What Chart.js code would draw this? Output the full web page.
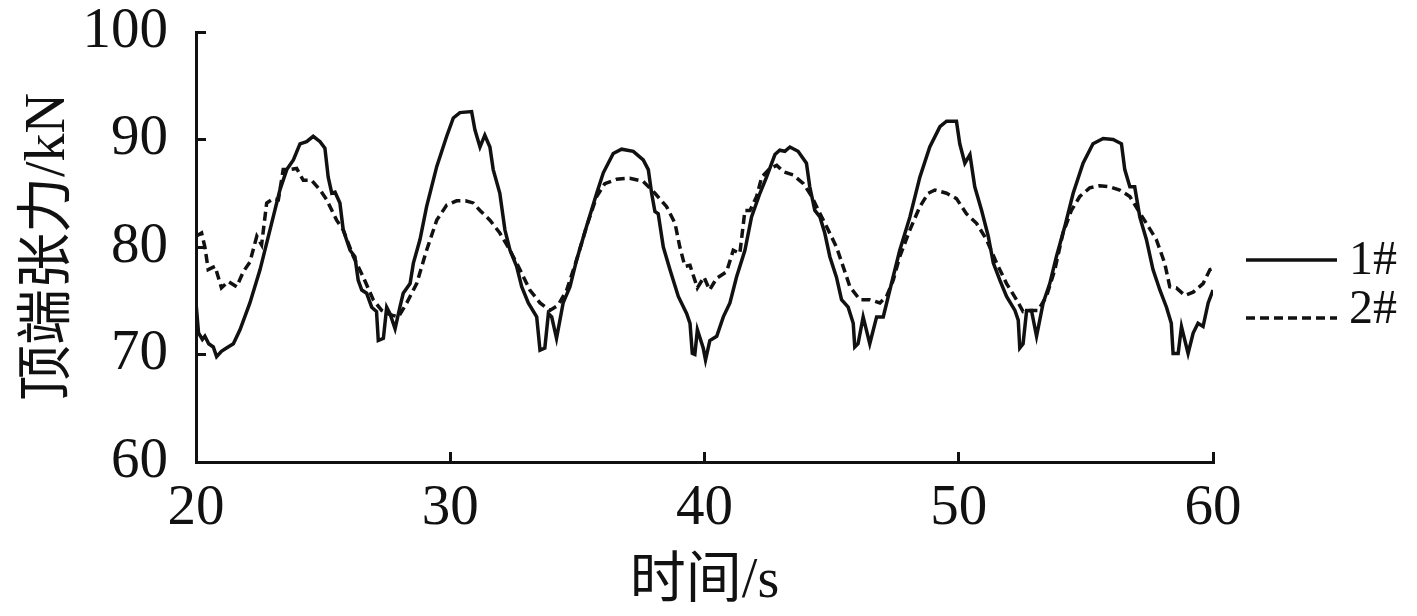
<!DOCTYPE html>
<html lang="zh">
<head>
    <meta charset="UTF-8">
    <title>顶端张力</title>
    <style>
        html, body { margin: 0; padding: 0; background: white; }
        .chart-container { width: 1417px; height: 616px; position: relative; }
    </style>
</head>
<body>
    <div class="chart-container">
        <canvas id="tensionChart"></canvas>
    </div>

    <script src="https://cdn.jsdelivr.net/npm/chart.js"></script>
    <script>
        // 1# riser
        const time1 = [20.0, 20.1, 20.25, 20.35, 20.5, 20.68, 20.81, 21.0, 21.2, 21.47, 21.73, 22.12, 22.52, 22.91, 23.3, 23.57, 23.83, 24.09, 24.35, 24.61,
            24.88, 25.07, 25.2, 25.34, 25.47, 25.66, 25.79, 26.06, 26.25, 26.38, 26.52, 26.71, 26.91, 27.1, 27.17, 27.37, 27.5, 27.63, 27.83, 28.02,
            28.15, 28.42, 28.55, 28.81, 29.07, 29.47, 29.86, 30.12, 30.38, 30.84, 30.97, 31.17, 31.36, 31.56, 31.69, 31.95, 32.15, 32.35, 32.61, 32.81,
            33.07, 33.4, 33.53, 33.72, 33.86, 33.99, 34.18, 34.44, 34.71, 34.97, 35.36, 35.76, 36.02, 36.41, 36.74, 37.2, 37.59, 37.79, 37.92, 38.05,
            38.18, 38.38, 38.64, 38.97, 39.3, 39.43, 39.52, 39.62, 39.72, 39.95, 40.04, 40.21, 40.48, 40.74, 41.0, 41.26, 41.59, 41.85, 42.18, 42.44,
            42.77, 42.96, 43.16, 43.36, 43.68, 44.01, 44.14, 44.34, 44.54, 44.73, 44.93, 45.19, 45.39, 45.65, 45.85, 45.91, 46.04, 46.24, 46.5, 46.77,
            47.03, 47.29, 47.68, 48.08, 48.47, 48.86, 49.26, 49.52, 49.91, 50.04, 50.24, 50.44, 50.63, 50.9, 51.16, 51.36, 51.62, 51.88, 52.21, 52.34,
            52.4, 52.53, 52.67, 52.86, 53.06, 53.32, 53.58, 53.84, 54.17, 54.5, 54.89, 55.28, 55.68, 56.07, 56.4, 56.53, 56.73, 56.92, 57.12, 57.38,
            57.64, 57.91, 58.17, 58.36, 58.43, 58.63, 58.76, 59.02, 59.22, 59.41, 59.61, 59.81, 60.0];
        const force1 = [74.8, 72.0, 71.4, 71.7, 71.0, 70.7, 69.8, 70.3, 70.6, 71.0, 72.3, 74.8, 77.9, 81.6, 85.3, 87.2, 88.1, 89.6, 89.8, 90.3,
            89.8, 89.2, 86.5, 85.0, 85.1, 84.1, 81.6, 79.7, 79.1, 76.9, 76.0, 75.7, 74.4, 74.0, 71.3, 71.5, 74.4, 73.8, 72.4, 74.4,
            75.7, 76.6, 78.5, 80.7, 83.75, 87.5, 90.3, 92.0, 92.5, 92.6, 90.9, 89.3, 90.4, 89.3, 87.2, 85.0, 81.6, 79.7, 78.2, 76.3,
            74.8, 73.5, 70.4, 70.6, 73.8, 73.5, 71.5, 74.8, 76.3, 78.8, 81.9, 85.0, 86.9, 88.7, 89.1, 88.9, 88.1, 87.2, 85.0, 83.3,
            83.1, 80.0, 77.9, 75.4, 73.8, 72.9, 70.1, 70.0, 72.3, 70.6, 69.5, 71.3, 71.7, 73.5, 74.8, 77.2, 79.7, 82.8, 85.0, 86.5,
            88.6, 89.0, 88.9, 89.3, 88.9, 87.8, 85.6, 83.4, 82.8, 81.3, 79.1, 77.2, 75.1, 74.4, 72.9, 70.7, 71.0, 73.5, 71.0, 73.5,
            73.5, 76.0, 79.7, 82.8, 86.5, 89.3, 91.2, 91.7, 91.7, 89.6, 87.8, 88.6, 85.6, 83.4, 81.0, 78.5, 76.9, 75.4, 74.1, 73.2,
            70.6, 71.0, 74.1, 74.1, 71.7, 74.8, 76.6, 79.1, 81.9, 85.0, 87.8, 89.6, 90.1, 90.0, 89.6, 87.2, 85.6, 85.6, 82.8, 80.7,
            77.9, 76.0, 74.4, 72.9, 70.1, 70.1, 72.6, 70.1, 72.0, 72.9, 72.6, 74.8, 76.0];

        // 2# riser
        const time2 = [20.0, 20.22, 20.35, 20.48, 20.75, 21.0, 21.27, 21.6, 21.86, 22.12, 22.39, 22.58, 22.78, 23.04, 23.24, 23.43, 23.7, 23.96, 24.22, 24.55,
            24.88, 25.14, 25.53, 25.79, 26.19, 26.58, 26.97, 27.3, 27.63, 27.96, 28.29, 28.68, 29.07, 29.47, 29.86, 30.25, 30.6, 30.9, 31.17, 31.56,
            31.95, 32.35, 32.74, 33.13, 33.53, 33.92, 34.25, 34.58, 34.97, 35.36, 35.76, 36.08, 36.54, 37.06, 37.59, 38.05, 38.51, 38.84, 39.03, 39.23,
            39.43, 39.72, 39.98, 40.2, 40.48, 40.87, 41.13, 41.39, 41.59, 41.79, 42.05, 42.25, 42.57, 42.84, 43.1, 43.49, 43.89, 44.22, 44.48, 44.8,
            45.19, 45.45, 45.72, 46.11, 46.5, 46.9, 47.16, 47.42, 47.68, 48.08, 48.47, 48.8, 49.06, 49.52, 49.91, 50.3, 50.7, 51.09, 51.49, 51.88,
            52.27, 52.53, 52.86, 53.12, 53.45, 53.78, 54.1, 54.43, 54.76, 55.15, 55.54, 55.94, 56.33, 56.73, 57.06, 57.38, 57.77, 58.1, 58.3, 58.56,
            58.89, 59.22, 59.61, 59.88, 60.0];
        const force2 = [81.0, 81.3, 80.0, 77.9, 78.2, 76.2, 76.8, 76.3, 77.7, 78.6, 81.0, 80.2, 84.1, 84.5, 84.4, 87.2, 87.2, 87.3, 86.2, 86.2,
            85.3, 84.4, 82.5, 81.6, 79.1, 77.2, 75.1, 74.1, 73.7, 73.5, 74.8, 76.6, 79.7, 82.5, 83.9, 84.3, 84.3, 84.1, 83.4, 82.5,
            81.3, 79.7, 77.9, 76.0, 74.8, 74.1, 74.6, 76.0, 78.8, 81.9, 84.7, 85.9, 86.3, 86.4, 86.1, 85.0, 83.75, 82.2, 80.0, 78.2,
            78.3, 76.2, 77.2, 76.0, 77.1, 77.7, 79.7, 79.4, 83.4, 83.4, 84.7, 86.5, 87.3, 87.6, 87.0, 86.7, 85.9, 84.7, 83.4, 81.9,
            80.0, 78.2, 76.3, 75.1, 75.1, 74.8, 75.4, 76.9, 79.1, 81.6, 83.75, 85.0, 85.3, 85.0, 84.5, 83.1, 82.2, 80.7, 78.5, 76.6,
            75.1, 74.0, 74.1, 74.1, 75.4, 77.9, 81.3, 83.4, 84.7, 85.5, 85.7, 85.6, 85.3, 84.7, 83.4, 82.2, 80.7, 78.5, 76.3, 76.2,
            75.5, 75.8, 76.6, 77.9, 78.0];

        const seriesNames = ['1#', '2#'];
        const xTitle = '时间/s';
        const yTitle = '顶端张力/kN';

        const toPoints = (xs, ys) => xs.map((x, i) => ({ x: x, y: ys[i] }));

        const serif = '"Liberation Serif", "Times New Roman", "Noto Sans CJK SC", serif';

        // legend drawn beside the plot, short line then label
        const sideLegend = {
            id: 'sideLegend',
            afterDraw(chart) {
                const ctx = chart.ctx;
                const right = chart.chartArea.right;
                const rows = [{ lineY: 260, textY: 274 }, { lineY: 318, textY: 323 }];
                chart.data.datasets.forEach((ds, i) => {
                    const r = rows[i];
                    ctx.save();
                    ctx.strokeStyle = ds.borderColor;
                    ctx.lineWidth = ds.borderWidth;
                    ctx.setLineDash(ds.borderDash || []);
                    ctx.beginPath();
                    ctx.moveTo(right + 33, r.lineY);
                    ctx.lineTo(right + 124, r.lineY);
                    ctx.stroke();
                    ctx.setLineDash([]);
                    ctx.fillStyle = '#111';
                    ctx.font = '48px ' + serif;
                    ctx.textBaseline = 'alphabetic';
                    ctx.fillText(ds.label, right + 136, r.textY);
                    ctx.restore();
                });
            }
        };

        const ctx = document.getElementById('tensionChart').getContext('2d');
        const tensionChart = new Chart(ctx, {
            type: 'scatter',
            data: {
                datasets: [
                    {
                        label: seriesNames[0],
                        data: toPoints(time1, force1),
                        showLine: true,
                        borderColor: '#111',
                        borderWidth: 3.5,
                        pointRadius: 0,
                        tension: 0
                    },
                    {
                        label: seriesNames[1],
                        data: toPoints(time2, force2),
                        showLine: true,
                        borderColor: '#111',
                        borderWidth: 3.5,
                        borderDash: [9, 5],
                        pointRadius: 0,
                        tension: 0
                    }
                ]
            },
            options: {
                responsive: true,
                maintainAspectRatio: false,
                animation: false,
                layout: { padding: { top: 32, right: 204, left: 0, bottom: 0 } },
                plugins: {
                    legend: { display: false },
                    tooltip: { enabled: false }
                },
                scales: {
                    x: {
                        type: 'linear',
                        min: 20,
                        max: 60,
                        afterFit(scale) { scale.height = 154; },
                        border: { display: true, color: '#111', width: 3 },
                        grid: { drawOnChartArea: false, color: '#111', lineWidth: 3, tickLength: -10 },
                        ticks: { stepSize: 10, color: '#111', padding: 23, font: { family: serif, size: 57 } },
                        title: { display: true, text: xTitle, color: '#111', padding: { top: 0, bottom: 0 }, font: { family: serif, size: 56 } }
                    },
                    y: {
                        min: 60,
                        max: 100,
                        afterFit(scale) {
                            scale.width = 196;
                            scale.paddingTop = 0;
                            scale.paddingBottom = 0;
                        },
                        border: { display: true, color: '#111', width: 3 },
                        grid: { drawOnChartArea: false, color: '#111', lineWidth: 3, tickLength: -10 },
                        ticks: { stepSize: 10, color: '#111', padding: 38, font: { family: serif, size: 57 } },
                        title: { display: true, text: yTitle, color: '#111', padding: { top: 16, bottom: 0 }, font: { family: serif, size: 56 } }
                    }
                }
            },
            plugins: [sideLegend]
        });
    </script>
</body>
</html>
